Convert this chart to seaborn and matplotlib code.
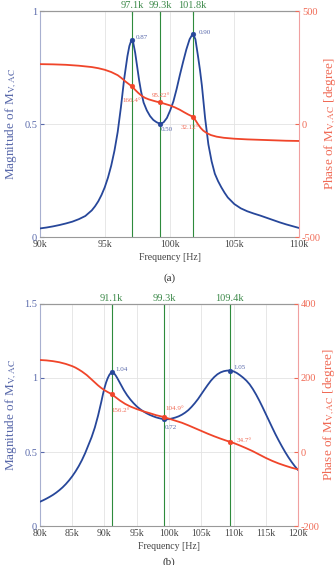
import numpy as np
import pandas as pd
import matplotlib
matplotlib.use("Agg")
import matplotlib.pyplot as plt
import seaborn as sns

# ---------------- data (a) ----------------
freq_a = [90.0, 90.5, 91.0, 91.5, 92.0, 92.5, 93.0, 93.5, 94.0, 94.25, 94.5, 94.75, 95.0,
          95.25, 95.5, 95.75, 96.0, 96.25, 96.5, 96.75, 96.9, 97.05, 97.2, 97.35, 97.5,
          97.65, 97.8, 98.0, 98.25, 98.5, 98.75, 99.0, 99.3, 99.55, 99.8, 100.05, 100.3,
          100.55, 100.8, 101.05, 101.3, 101.55, 101.8, 102.0, 102.2, 102.35, 102.5, 102.75,
          103.0, 103.25, 103.5, 103.75, 104.0, 104.25, 104.5, 105.0, 105.5, 106.0, 106.5,
          107.0, 107.5, 108.0, 108.5, 109.0, 109.5, 110.0]
mag_a = [0.038, 0.042, 0.047, 0.053, 0.060, 0.068, 0.079, 0.093, 0.118, 0.136, 0.158, 0.186,
         0.22, 0.263, 0.316, 0.382, 0.465, 0.575, 0.70, 0.80, 0.845, 0.87, 0.86, 0.815,
         0.755, 0.695, 0.645, 0.595, 0.56, 0.535, 0.518, 0.508, 0.50, 0.508, 0.527, 0.56,
         0.60, 0.655, 0.717, 0.775, 0.83, 0.875, 0.90, 0.875, 0.80, 0.74, 0.67, 0.525, 0.41,
         0.335, 0.28, 0.247, 0.22, 0.196, 0.175, 0.146, 0.127, 0.114, 0.104, 0.095, 0.085,
         0.075, 0.065, 0.056, 0.048, 0.040]
pfreq_a = [90, 91, 92, 93, 94, 94.5, 95, 95.5, 96, 96.3, 96.6, 96.9, 97.1, 97.35, 97.6,
           97.85, 98.1, 98.4, 98.75, 99.0, 99.3, 99.65, 100.0, 100.4, 100.8, 101.1, 101.45,
           101.8, 102.0, 102.2, 102.4, 102.6, 102.87, 103.2, 103.64, 104.2, 105, 106, 107,
           108, 109, 110]
phase_a = [265, 264, 262, 258, 252, 247, 240, 230, 216, 203, 188, 175, 166.4, 151, 137,
           125, 116, 109, 103, 99, 95.22, 89, 83, 74, 63, 53, 42, 32.12, 17, -1, -17, -29,
           -40, -49, -56, -61, -65, -68, -70, -72, -74, -75]
mk_f_a = [97.1, 99.3, 101.8]
mk_mag_a = [0.87, 0.50, 0.90]
mk_ph_a = [166.4, 95.22, 32.12]
mk_ph_txt_a = ["166.4°", "95.22°", "32.12°"]
mk_lbl_a = ["97.1k", "99.3k", "101.8k"]
xt_a = [90, 95, 100, 105, 110]
xtl_a = ["90k", "95k", "100k", "105k", "110k"]

# ---------------- data (b) ----------------
freq_b = [80.0, 80.5, 81.0, 81.5, 82.0, 82.5, 83.0, 83.5, 84.0, 84.5, 85.0, 85.5, 86.0,
          86.5, 87.0, 87.5, 88.0, 88.5, 89.0, 89.5, 89.75, 90.0, 90.25, 90.5, 90.75, 91.0,
          91.1, 91.25, 91.5, 91.75, 92.0, 92.25, 92.5, 92.75, 93.0, 93.5, 94.0, 94.5, 95.0,
          95.5, 96.0, 96.5, 97.0, 97.5, 98.0, 98.5, 99.0, 99.3, 99.5, 100.0, 100.5, 101.0,
          101.5, 102.0, 102.5, 103.0, 103.5, 104.0, 104.5, 105.0, 105.5, 106.0, 106.5,
          107.0, 107.5, 108.0, 108.5, 109.0, 109.5, 110.0, 110.5, 111.0, 111.5, 112.0,
          112.5, 113.0, 113.5, 114.0, 114.5, 115.0, 115.5, 116.0, 116.5, 117.0, 117.5,
          118.0, 118.5, 119.0, 119.5, 120.0]
mag_b = [0.164, 0.174, 0.185, 0.197, 0.210, 0.225, 0.242, 0.261, 0.283, 0.308, 0.336,
         0.368, 0.404, 0.445, 0.492, 0.546, 0.600, 0.665, 0.745, 0.838, 0.888, 0.933,
         0.970, 0.999, 1.021, 1.035, 1.039, 1.040, 1.031, 1.016, 0.998, 0.978, 0.958,
         0.938, 0.918, 0.884, 0.855, 0.830, 0.808, 0.790, 0.775, 0.762, 0.751, 0.742,
         0.734, 0.728, 0.723, 0.721, 0.720, 0.722, 0.727, 0.733, 0.741, 0.752, 0.766,
         0.783, 0.805, 0.830, 0.858, 0.890, 0.922, 0.953, 0.982, 1.006, 1.025, 1.038,
         1.046, 1.050, 1.050, 1.045, 1.034, 1.019, 1.002, 0.982, 0.957, 0.925, 0.888,
         0.847, 0.803, 0.757, 0.711, 0.665, 0.620, 0.578, 0.538, 0.500, 0.465, 0.433,
         0.404, 0.378]
pfreq_b = [80, 81, 82, 83, 84, 85, 85.5, 86, 86.5, 87.24, 88, 88.5, 89, 89.5, 90, 90.5,
           91.1, 91.8, 92.4, 93.2, 94, 95, 96, 97, 98, 99.3, 100, 101, 102, 103, 104, 105,
           106, 107, 108, 109, 109.7, 110.5, 111, 112, 113, 114, 115, 116, 117, 118, 119, 120]
phase_b = [248.6, 247.5, 245.5, 242.5, 238, 232, 228, 223, 217.5, 208, 196, 188, 180, 173,
           167, 162, 156.5, 147, 139, 130, 123, 116, 110, 105, 99.5, 94, 90, 84.5, 79, 72,
           64.5, 57, 49.5, 42.5, 36, 30, 26.5, 21, 17.5, 10, 2, -7, -16, -24, -31, -37,
           -42.5, -47]
mk_f_b = [91.1, 99.3, 109.4]
mk_mag_b = [1.04, 0.72, 1.05]
mk_ph_b = [156.5, 94, 28]
mk_ph_txt_b = ["156.2°", "104.9°", "34.7°"]
mk_lbl_b = ["91.1k", "99.3k", "109.4k"]
xt_b = [80, 85, 90, 95, 100, 105, 110, 115, 120]
xtl_b = ["80k", "85k", "90k", "95k", "100k", "105k", "110k", "115k", "120k"]

BLUE = "#27479a"
BLUE_T = "#5868aa"
RED = "#f0452a"
RED_T = "#f06a55"
GREEN = "#2e8b3c"
GREEN_T = "#3d8a4a"

sns.set_style("white")
plt.rcParams["font.family"] = ["Liberation Serif", "DejaVu Serif"]
plt.rcParams["mathtext.fontset"] = "stix"
plt.rcParams["lines.solid_joinstyle"] = "round"

fig = plt.figure(figsize=(3.36, 5.65), dpi=100)


def panel(rect, fr, mg, pf, ph, mkf, mkm, mkp, mkp_txt, mkl, xt, xtl, ylim_l, yt_l, ytl_l,
          ylim_r, yt_r, ytl_r, mag_ann, ph_ann, caption, cap_y):
    ax = fig.add_axes(rect)
    ax.set_xlim(xt[0], xt[-1])
    ax.set_ylim(*ylim_l)
    ax.grid(True, color="#e3e3e3", lw=0.6)
    ax.set_axisbelow(True)
    for f in mkf:
        ax.axvline(f, color=GREEN, lw=0.8, zorder=1)
    sns.lineplot(x=fr, y=mg, ax=ax, color=BLUE, lw=1.3, zorder=3)
    sns.scatterplot(x=mkf, y=mkm, ax=ax, color=BLUE, s=12, edgecolor=BLUE, zorder=4)
    ax.set_xticks(xt)
    ax.set_xticklabels(xtl)
    ax.set_yticks(yt_l)
    ax.set_yticklabels(ytl_l)
    ax.tick_params(axis="x", direction="in", length=3, labelsize=7, colors="#444444", pad=2)
    ax.tick_params(axis="y", direction="in", length=3, labelsize=7.5, colors=BLUE_T, pad=2)
    ax.set_xlabel("Frequency [Hz]", fontsize=7, color="#444444", labelpad=3)
    ax.set_ylabel(r"Magnitude of M$_{\mathrm{V,AC}}$", fontsize=9.5, color=BLUE_T, labelpad=4)
    for s in ["top", "bottom"]:
        ax.spines[s].set_color("#999999")
    ax.spines["left"].set_color("#a8b0d0")
    ax.spines["right"].set_visible(False)

    for (f, m, (dx, dy, ha, va)) in zip(mkf, mkm, mag_ann):
        ax.annotate(f"{m:.2f}", (f, m), xytext=(dx, dy), textcoords="offset points",
                    fontsize=5, color=BLUE_T, ha=ha, va=va)

    ax2 = ax.twinx()
    ax2.set_ylim(*ylim_r)
    sns.lineplot(x=pf, y=ph, ax=ax2, color=RED, lw=1.3, zorder=3)
    sns.scatterplot(x=mkf, y=mkp, ax=ax2, color=RED, s=12, edgecolor=RED, zorder=4)
    ax2.set_yticks(yt_r)
    ax2.set_yticklabels(ytl_r)
    ax2.tick_params(axis="y", direction="in", length=3, labelsize=7.5, colors=RED_T, pad=2)
    ax2.set_ylabel(r"Phase of M$_{\mathrm{V,AC}}$ [degree]", fontsize=9.5, color=RED_T,
                   labelpad=1)
    ax2.spines["right"].set_color("#f0a0a0")
    ax2.spines["left"].set_visible(False)
    ax2.spines["top"].set_visible(False)
    ax2.spines["bottom"].set_visible(False)
    ax2.grid(False)
    for (f, p, txt, (dx, dy, ha, va)) in zip(mkf, mkp, mkp_txt, ph_ann):
        ax2.annotate(txt, (f, p), xytext=(dx, dy), textcoords="offset points",
                     fontsize=5, color=RED_T, ha=ha, va=va)

    sec = ax.secondary_xaxis("top")
    sec.set_xticks(mkf)
    sec.set_xticklabels(mkl)
    sec.tick_params(axis="x", direction="in", length=3, labelsize=7.5, colors=GREEN_T, pad=1)
    sec.spines["top"].set_color("#999999")

    fig.text(rect[0] + rect[2] / 2, cap_y, caption, ha="center", va="center",
             fontsize=8, color="#333333")
    return ax, ax2


panel([0.119, 0.5805, 0.771, 0.400], freq_a, mag_a, pfreq_a, phase_a, mk_f_a, mk_mag_a,
      mk_ph_a, mk_ph_txt_a, mk_lbl_a, xt_a, xtl_a, (0, 1), [0, 0.5, 1], ["0", "0.5", "1"],
      (-500, 500), [-500, 0, 500], ["-500", "0", "500"],
      [(3, 2, "left", "center"), (0, -4, "left", "center"), (4, 1, "left", "center")],
      [(0, -10, "center", "center"), (0, 5, "center", "center"), (-2, -8, "center", "center")],
      "(a)", 0.508)

panel([0.119, 0.069, 0.768, 0.393], freq_b, mag_b, pfreq_b, phase_b, mk_f_b, mk_mag_b,
      mk_ph_b, mk_ph_txt_b, mk_lbl_b, xt_b, xtl_b, (0, 1.5), [0, 0.5, 1, 1.5],
      ["0", "0.5", "1", "1.5"],
      (-200, 400), [-200, 0, 200, 400], ["-200", "0", "200", "400"],
      [(3, 2, "left", "center"), (0, -6, "left", "center"), (3, 2, "left", "center")],
      [(0, -12, "left", "center"), (1, 6, "left", "center"), (5, 1, "left", "center")],
      "(b)", 0.005)

fig.savefig("out.png", dpi=100)
